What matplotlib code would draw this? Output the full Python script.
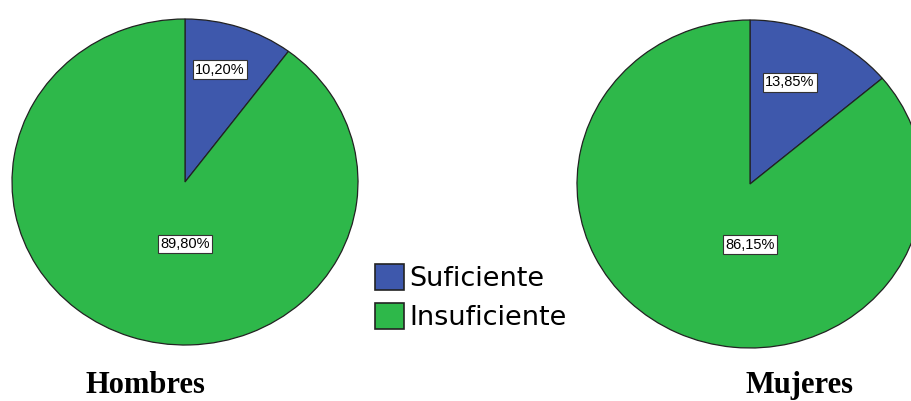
import matplotlib.pyplot as plt
from matplotlib.patches import Patch

categories = ['Suficiente', 'Insuficiente']
hombres = [10.20, 89.80]
mujeres = [13.85, 86.15]
group_titles = ['Hombres', 'Mujeres']
colors = ['#3e58ac', '#2eb84a']

W, H = 912, 401
fig = plt.figure(figsize=(W / 100, H / 100), dpi=100)


def px_axes(x0, y0, x1, y1):
    # pixel box (top-left origin) -> figure axes
    return fig.add_axes([x0 / W, (H - y1) / H, (x1 - x0) / W, (y1 - y0) / H])


def draw_pie(ax, values, blue_pos, green_pos):
    ax.pie(values, colors=colors, startangle=90, counterclock=False,
           wedgeprops=dict(edgecolor='#222222', linewidth=0.9))
    ax.set_aspect('auto')
    ax.set_xlim(-1, 1)
    ax.set_ylim(-1, 1)
    ax.axis('off')
    box = dict(boxstyle='square,pad=0.15', facecolor='white', edgecolor='#333333', linewidth=0.8)
    for v, pos in zip(values, [blue_pos, green_pos]):
        ax.text(pos[0], pos[1], f'{v:.2f}%'.replace('.', ','), ha='center', va='center',
                fontsize=10.5, family='Liberation Sans', bbox=box)


ax1 = px_axes(12, 19, 358, 345)
draw_pie(ax1, hombres, (0.2, 0.69), (0.0, -0.38))

ax2 = px_axes(577, 20, 923, 348)
draw_pie(ax2, mujeres, (0.23, 0.62), (0.0, -0.37))

# titles placed by baseline so the descender of "j" stays inside
fig.text(145 / W, 1 - 393 / H, group_titles[0], ha='center', va='baseline',
         fontsize=22, fontweight='bold', family='Liberation Serif')
fig.text(800 / W, 1 - 393 / H, group_titles[1], ha='center', va='baseline',
         fontsize=22, fontweight='bold', family='Liberation Serif')

handles = [Patch(facecolor=c, edgecolor='#222222', linewidth=1.2) for c in colors]
fig.legend(handles, categories, loc='upper left', bbox_to_anchor=(375 / W, 1 - 264 / H),
           frameon=False, borderpad=0, borderaxespad=0,
           handlelength=1.08, handleheight=1.1, handletextpad=0.18, labelspacing=0.38,
           prop={'family': 'DejaVu Sans', 'size': 19.5})

fig.savefig('out.png', dpi=100)
